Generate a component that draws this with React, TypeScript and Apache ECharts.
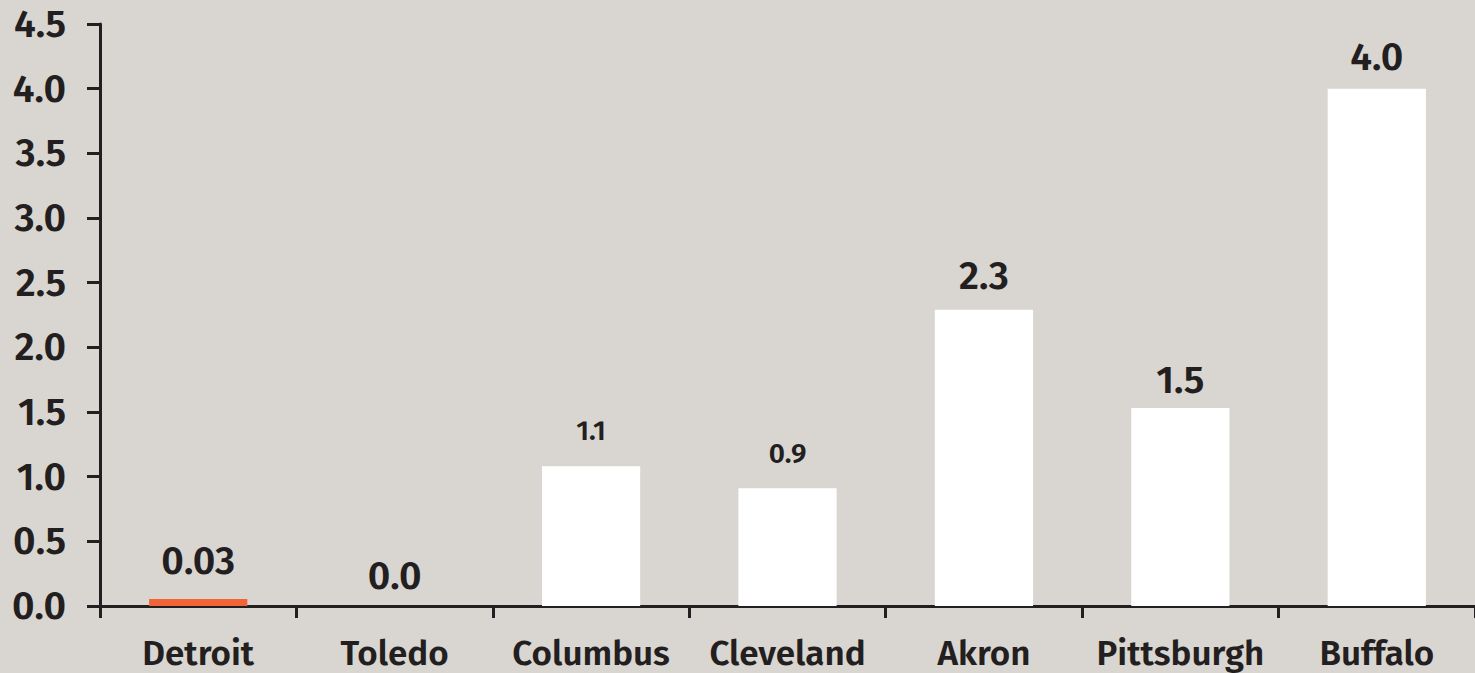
import React, { useEffect, useRef } from "react";
import * as echarts from "echarts";

const categories = ["Detroit", "Toledo", "Columbus", "Cleveland", "Akron", "Pittsburgh", "Buffalo"];
const values = [0.03, 0, 1.08, 0.91, 2.29, 1.53, 4.0];
const valueLabels = ["0.03", "0.0", "1.1", "0.9", "2.3", "1.5", "4.0"];
const yTicks = ["0.0", "0.5", "1.0", "1.5", "2.0", "2.5", "3.0", "3.5", "4.0", "4.5"];

const BG = "#d9d6d1";
const INK = "#231f20";
const ORANGE = "#f26338";
const FONT = "'Fira Sans', 'Noto Sans', sans-serif";
const WEIGHT = 600;

const labelSizes = [39, 39, 28, 28, 39, 39, 39];
const labelDistances = [19, 4, 22, 21, 14, 9, 12];

export default function App() {
  const ref = useRef<HTMLDivElement>(null);
  useEffect(() => {
    if (!ref.current) return;
    const chart = echarts.init(ref.current, null, { renderer: "svg" });
    const data = values.map((v, i) => ({
      value: v,
      itemStyle: {
        color: i === 0 ? ORANGE : i === 1 ? "rgba(0,0,0,0)" : "#ffffff",
      },
      label: {
        show: true,
        position: "top",
        formatter: valueLabels[i],
        fontSize: labelSizes[i],
        distance: labelDistances[i],
        fontWeight: WEIGHT,
        fontFamily: FONT,
        color: INK,
      },
    }));
    chart.setOption({
      animation: false,
      backgroundColor: BG,
      grid: { left: 100, right: -4, top: 24, bottom: 67, containLabel: false },
      xAxis: {
        type: "category",
        data: categories,
        axisLine: { show: true, lineStyle: { color: INK, width: 3 } },
        axisTick: { show: true, alignWithLabel: false, length: 12, lineStyle: { color: INK, width: 3 } },
        axisLabel: {
          color: INK,
          fontSize: 35,
          fontWeight: WEIGHT,
          fontFamily: FONT,
          margin: 29,
          interval: 0,
        },
      },
      yAxis: {
        type: "value",
        min: 0,
        max: 4.5,
        interval: 0.5,
        splitLine: { show: false },
        axisLine: { show: true, lineStyle: { color: INK, width: 3 } },
        axisTick: { show: true, length: 13, lineStyle: { color: INK, width: 3 } },
        axisLabel: {
          color: INK,
          fontSize: 39,
          fontWeight: WEIGHT,
          fontFamily: FONT,
          margin: 34,
          formatter: (v: number) => yTicks[Math.round(v / 0.5)] ?? v.toFixed(1),
        },
      },
      series: [
        {
          type: "bar",
          data,
          barWidth: "50%",
          barMinHeight: 7,
        },
      ],
    });
    return () => chart.dispose();
  }, []);
  return <div ref={ref} style={{ width: 1475, height: 673, position: "absolute", left: 0, top: 0 }} />;
}
